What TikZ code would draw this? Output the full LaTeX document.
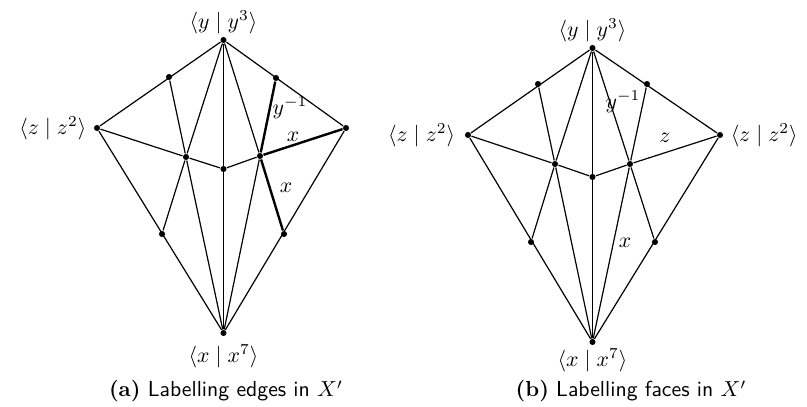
\documentclass[tikz,border=0pt]{standalone}
\usepackage{amssymb,amsmath}
\usepackage{tikz}
\usetikzlibrary{positioning}

\tikzset{
    vtx/.style={circle, fill=black, inner sep=0pt, minimum size=2.8pt},
    lbl/.style={inner sep=1pt},
    hl/.style={line width=1.1pt}
}

\begin{document}
\begin{tikzpicture}[x=0.46pt, y=-0.46pt, line width=0.55pt]
    \useasboundingbox (0,0) rectangle (807,407);

    % (a) vertices
    \node[vtx] (aY) at (223.5,40) {};
    \node[vtx] (aX) at (223.5,333) {};
    \node[vtx] (aZl) at (97,128) {};
    \node[vtx] (aZr) at (346,128) {};
    \node[vtx] (aUL) at (169,77) {};
    \node[vtx] (aUR) at (276,78) {};
    \node[vtx] (aA) at (186,157) {};
    \node[vtx] (aB) at (260,156) {};
    \node[vtx] (aC) at (223.5,169) {};
    \node[vtx] (aLL) at (162,234) {};
    \node[vtx] (aLR) at (284,234) {};

    % (a) edges
    \draw (aZl) -- (aY) -- (aZr) -- (aX) -- (aZl);
    \draw (aY) -- (aX);
    \draw (aY) -- (aA) -- (aLL);
    \draw (aUL) -- (aA) -- (aX);
    \draw (aY) -- (aB);
    \draw (aB) -- (aX);
    \draw (aZl) -- (aA) -- (aC) -- (aB);
    \draw[hl] (aUR) -- (aB) -- (aZr);
    \draw[hl] (aB) -- (aLR);

    % (a) labels
    \node[lbl, above=0pt of aY] (aYl) {$\langle y \mid y^3\rangle$};
    \node[lbl, left=2pt of aZl] (aZll) {$\langle z \mid z^2\rangle$};
    \node[lbl, below=2.5pt of aX] (aXl) {$\langle x \mid x^7\rangle$};
    \node (ae1) at (290,108) {$y^{-1}$};
    \node (ae2) at (293,137) {$x$};
    \node (ae3) at (286,188) {$x$};
    \node[anchor=base] (acap) at (226,397) {\textbf{(a)} \textsf{Labelling edges in} $X'$};

    % (b) vertices
    \node[vtx] (bY) at (592.5,48) {};
    \node[vtx] (bX) at (592.5,342) {};
    \node[vtx] (bZl) at (468,135) {};
    \node[vtx] (bZr) at (720,135) {};
    \node[vtx] (bUL) at (538,84) {};
    \node[vtx] (bUR) at (647,84) {};
    \node[vtx] (bA) at (555,164) {};
    \node[vtx] (bB) at (630,164) {};
    \node[vtx] (bC) at (592.5,177) {};
    \node[vtx] (bLL) at (531,242) {};
    \node[vtx] (bLR) at (655,242) {};

    % (b) edges
    \draw (bZl) -- (bY) -- (bZr) -- (bX) -- (bZl);
    \draw (bY) -- (bX);
    \draw (bY) -- (bA) -- (bLL);
    \draw (bUL) -- (bA) -- (bX);
    \draw (bY) -- (bB) -- (bLR);
    \draw (bUR) -- (bB) -- (bX);
    \draw (bZl) -- (bA) -- (bC) -- (bB) -- (bZr);

    % (b) labels
    \node[lbl, above=0pt of bY] (bYl) {$\langle y \mid y^3\rangle$};
    \node[lbl, left=3pt of bZl] (bZll) {$\langle z \mid z^2\rangle$};
    \node[lbl, right=2pt of bZr] (bZrl) {$\langle z \mid z^2\rangle$};
    \node[lbl, below=0pt of bX] (bXl) {$\langle x \mid x^7\rangle$};
    \node (bf1) at (623,102) {$y^{-1}$};
    \node (bf2) at (665,138) {$z$};
    \node (bf3) at (625,243) {$x$};
    \node[anchor=base] (bcap) at (631,397) {\textbf{(b)} \textsf{Labelling faces in} $X'$};
\end{tikzpicture}
\end{document}
